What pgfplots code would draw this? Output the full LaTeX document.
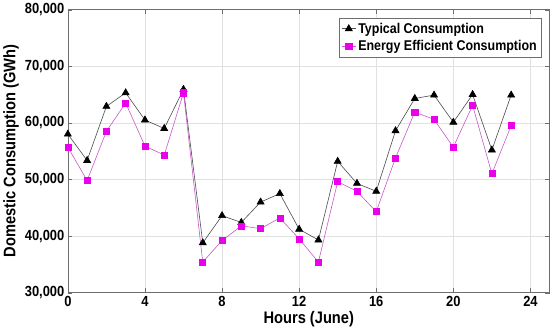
\documentclass[border=0pt]{standalone}
\usepackage{fontspec}
\setmainfont{Liberation Sans}[FakeStretch=0.88]
\usepackage{pgfplots}
\pgfplotsset{compat=1.18}
\definecolor{gridgray}{RGB}{225,225,225}
\definecolor{framegray}{RGB}{110,110,110}
\definecolor{mag}{RGB}{235,0,235}
\definecolor{magline}{RGB}{200,90,200}
\begin{document}
\begin{tikzpicture}
\begin{axis}[
  scale only axis,
  width=475bp, height=279bp,
  xmin=0, xmax=25, ymin=30000, ymax=80000,
  xtick={0,4,...,24}, ytick={30000,40000,...,80000},
  grid=major, major grid style={gridgray, line width=0.5pt},
  axis line style={framegray, line width=0.6pt},
  tick style={framegray},
  tick align=inside,
  every tick label/.append style={font=\fontsize{14.5}{16}\selectfont\bfseries},
  /pgf/number format/assume math mode=true,
  yticklabel style={/pgf/number format/.cd, fixed, 1000 sep={,}},
  scaled y ticks=false,
  xlabel={Hours (June)},
  ylabel={Domestic Consumption (GWh)},
  label style={font=\fontsize{16.5}{18}\selectfont\bfseries},
  xlabel style={yshift=2bp},
  ylabel style={yshift=-1bp},
  legend style={at={(0.983,0.97)}, anchor=north east, draw=framegray, font=\fontsize{14}{16}\selectfont\bfseries, cells={anchor=west}, inner sep=2.5pt, row sep=2pt},
  legend image code/.code={\draw[#1] (0cm,0cm) -- (0.5cm,0cm); \draw[#1, only marks] plot coordinates {(0.25cm,0cm)};},
]
\addplot[color=black!70, line width=0.6pt, mark=triangle*, mark size=4pt, mark options={fill=black, draw=black}] coordinates {
(0,58000) (1,53350) (2,62900) (3,65300) (4,60500) (5,59000) (6,65900) (7,38800)
(8,43600) (9,42400) (10,46000) (11,47500) (12,41200) (13,39300) (14,53200) (15,49300)
(16,47900) (17,58600) (18,64300) (19,64900) (20,60100) (21,65000) (22,55200) (23,64900)};
\addlegendentry{Typical Consumption}
\addplot[color=magline, line width=0.6pt, mark=square*, mark size=3pt, mark options={fill=mag, draw=mag}] coordinates {
(0,55700) (1,49800) (2,58500) (3,63500) (4,55900) (5,54300) (6,65300) (7,35400)
(8,39200) (9,41800) (10,41300) (11,43200) (12,39500) (13,35400) (14,49600) (15,47900)
(16,44300) (17,53800) (18,61900) (19,60600) (20,55700) (21,63100) (22,51000) (23,59500)};
\addlegendentry{Energy Efficient Consumption}
\end{axis}
\end{tikzpicture}
\end{document}
